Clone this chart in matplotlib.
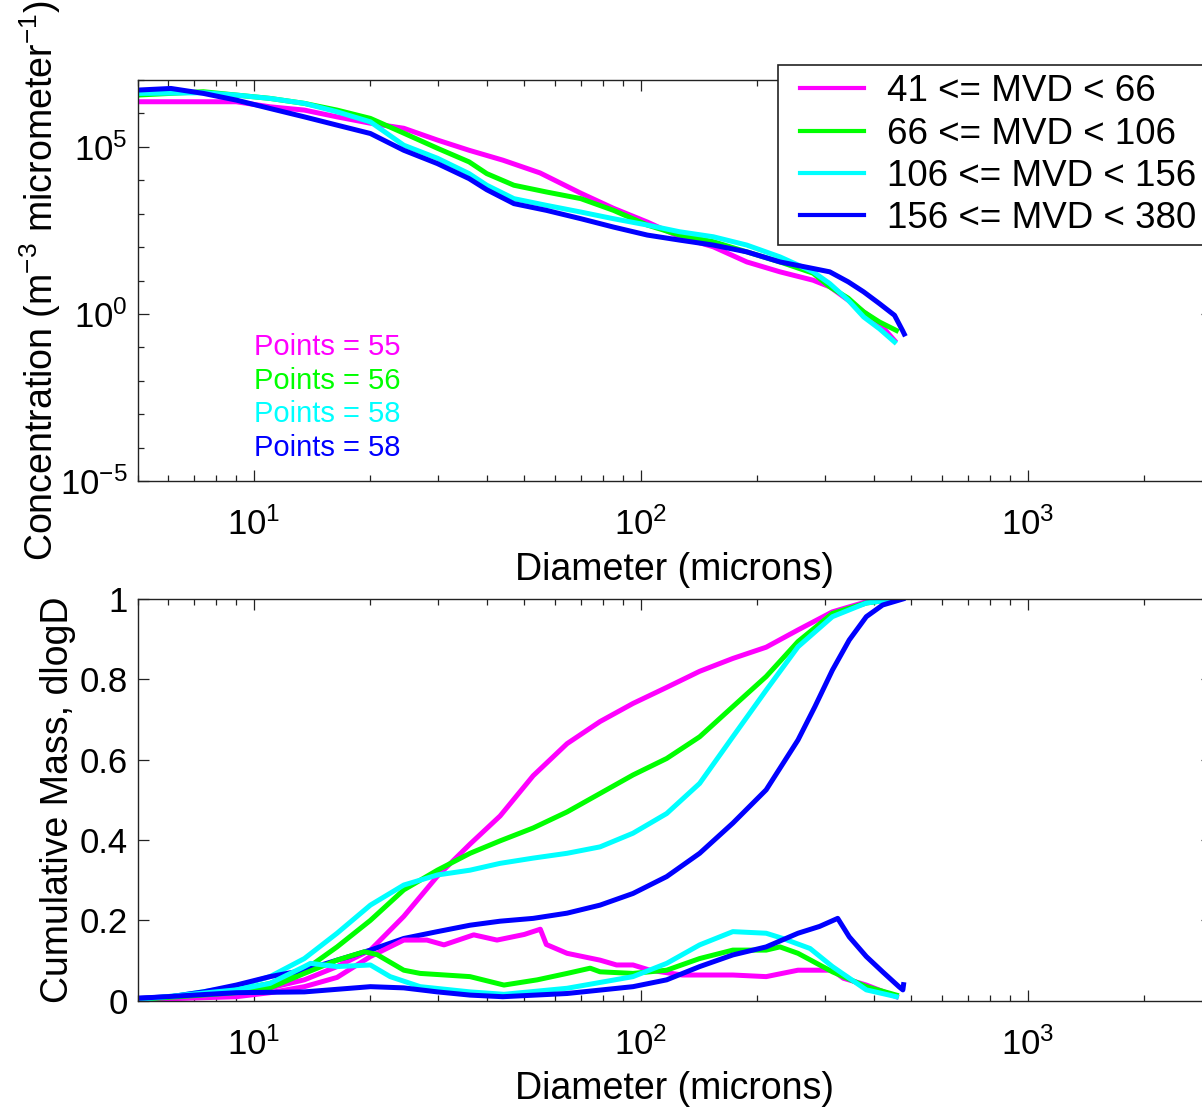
import matplotlib
matplotlib.use("Agg")
import matplotlib.pyplot as plt
from matplotlib.lines import Line2D
from matplotlib.legend_handler import HandlerLine2D
from matplotlib.ticker import FixedLocator, NullFormatter, LogLocator

# fonts: Arial-like text, math superscripts in the same font
plt.rcParams['font.family'] = ['Liberation Sans', 'DejaVu Sans']
plt.rcParams['mathtext.fontset'] = 'custom'
plt.rcParams['mathtext.rm'] = 'Liberation Sans'
plt.rcParams['mathtext.it'] = 'Liberation Sans'
plt.rcParams['mathtext.default'] = 'regular'

# ---- data ------------------------------------------------------------------
labels = ["41 <= MVD < 66", "66 <= MVD < 106", "106 <= MVD < 156", "156 <= MVD < 380"]
colors = ["#ff00ff", "#00ff00", "#00ffff", "#0000ff"]
points = [55, 56, 58, 58]

# top panel: concentration (m^-3 um^-1) vs diameter (um)
conc_d_mag = [5, 9, 11, 13.5, 16.4, 20, 24.4, 29.8, 36, 44, 54.9, 70, 85, 104, 126, 154, 188, 229,
              279, 308, 344, 377, 414, 453]
conc_mag = [2.24e6, 2.24e6, 1.58e6, 1.26e6, 7.9e5, 5.1e5, 3.6e5, 1.6e5, 7.9e4, 4.0e4, 1.66e4, 4.1e3,
            1.45e3, 562, 204, 102, 36, 18.2, 10.2, 6.5, 2.57, 1.15, 0.52, 0.16]

conc_d_grn = [5, 7.4, 9, 11, 13.5, 16.4, 20, 24.4, 29.8, 36, 40, 47, 57, 70, 85, 104, 126, 154, 188,
              229, 279, 308, 344, 377, 414, 458]
conc_grn = [3.55e6, 4.47e6, 3.55e6, 2.82e6, 2.0e6, 1.26e6, 7.1e5, 2.57e5, 9.1e4, 3.55e4, 1.58e4,
            7.1e3, 4.47e3, 2.82e3, 1.26e3, 457, 229, 145, 72, 36, 16.6, 6.5, 2.95, 1.15, 0.575, 0.32]

conc_d_cyn = [5, 7.4, 9, 11, 13.5, 16.4, 20, 24.4, 29.8, 36, 40, 47, 57, 70, 85, 104, 126, 154, 188,
              229, 279, 308, 344, 377, 414, 453]
conc_cyn = [3.98e6, 4.17e6, 3.55e6, 2.82e6, 2.0e6, 1.12e6, 5.6e5, 1.12e5, 4.57e4, 1.58e4, 7.1e3,
            2.82e3, 1.78e3, 1.12e3, 708, 457, 288, 204, 115, 51, 18.2, 8.1, 2.57, 0.81, 0.36, 0.145]

conc_d_blu = [5, 6.1, 7.4, 9, 11, 13.5, 16.4, 20, 24.4, 29.8, 36, 40, 47, 57, 70, 85, 104, 126, 154,
              188, 229, 279, 308, 344, 377, 414, 453, 475, 480]
conc_blu = [5.0e6, 5.6e6, 3.98e6, 2.51e6, 1.41e6, 7.9e5, 4.47e5, 2.51e5, 7.9e4, 3.16e4, 1.12e4,
            5.2e3, 2.0e3, 1.26e3, 708, 398, 229, 162, 115, 72, 36, 22.9, 18.2, 9.1, 4.57, 2.04, 0.91,
            0.32, 0.25]

# bottom panel: cumulative mass fraction
cum_d = [5, 6.1, 9, 11, 13.5, 16.4, 20, 24.4, 29.8, 36.2, 43.3, 52.7, 64.5, 78.5, 95.5, 116.7, 142,
         173, 211, 255, 313, 383, 458]
cum_mag = [0.003, 0.007, 0.02, 0.032, 0.052, 0.085, 0.126, 0.21, 0.31, 0.39, 0.46, 0.56, 0.64, 0.695,
           0.74, 0.78, 0.82, 0.852, 0.88, 0.923, 0.968, 0.993, 1.0]
cum_grn = [0.003, 0.01, 0.027, 0.043, 0.076, 0.134, 0.20, 0.276, 0.325, 0.367, 0.398, 0.43, 0.47,
           0.516, 0.562, 0.603, 0.657, 0.732, 0.807, 0.894, 0.964, 0.99, 1.0]
cum_cyn = [0.003, 0.01, 0.035, 0.06, 0.105, 0.168, 0.238, 0.288, 0.313, 0.325, 0.342, 0.355, 0.367,
           0.383, 0.417, 0.466, 0.541, 0.657, 0.773, 0.881, 0.956, 0.99, 1.0]
cum_d_blu = [5, 6.1, 7.4, 9, 11, 13.5, 16.4, 20, 24.4, 29.8, 36.2, 43.3, 52.7, 64.5, 78.5, 95.5, 116.7,
             142, 173, 211, 255, 282, 313, 346, 383, 422, 476]
cum_blu = [0.006, 0.01, 0.022, 0.039, 0.06, 0.076, 0.101, 0.126, 0.155, 0.172, 0.188, 0.198, 0.205,
           0.218, 0.238, 0.267, 0.309, 0.367, 0.442, 0.525, 0.649, 0.732, 0.823, 0.898, 0.956, 0.985,
           1.0]

# bottom panel: mass distribution (dM/dlogD, normalised)
dist_d_mag = [5, 6.1, 9, 11, 13.5, 16.4, 20, 24.4, 28, 31, 37, 42.5, 50, 55, 57, 64.5, 78.5, 86.6,
              95.5, 105.6, 128, 173, 211, 255, 313, 334, 383, 458]
dist_mag = [0.002, 0.005, 0.01, 0.02, 0.035, 0.058, 0.11, 0.151, 0.151, 0.139, 0.164, 0.151, 0.165,
            0.178, 0.14, 0.118, 0.101, 0.089, 0.089, 0.076, 0.064, 0.064, 0.06, 0.076, 0.076, 0.056,
            0.039, 0.01]
dist_d_grn = [5, 9, 11, 13.5, 16.4, 19.3, 20.8, 24.4, 26.9, 36.2, 44.3, 54, 64.5, 74, 78.5, 95.5,
              116.7, 142, 173, 211, 229, 255, 313, 383, 458]
dist_grn = [0.003, 0.02, 0.032, 0.068, 0.101, 0.122, 0.115, 0.076, 0.068, 0.06, 0.039, 0.052, 0.068,
            0.081, 0.072, 0.068, 0.076, 0.105, 0.126, 0.126, 0.134, 0.118, 0.072, 0.035, 0.014]
dist_d_cyn = [5, 9, 11, 13.5, 14, 16.4, 20, 22.5, 26.9, 36.2, 44.3, 64.5, 95.5, 116.7, 142, 173, 211,
              233, 274, 313, 383, 458]
dist_cyn = [0.003, 0.027, 0.043, 0.085, 0.093, 0.085, 0.089, 0.06, 0.035, 0.022, 0.016, 0.031, 0.06,
            0.093, 0.139, 0.172, 0.168, 0.155, 0.13, 0.085, 0.027, 0.01]
dist_d_blu = [5, 9, 13.5, 20, 24.4, 29.8, 36.2, 44, 64.5, 95.5, 116.7, 142, 173, 211, 255, 290, 323,
              346, 383, 422, 465, 476, 478]
dist_blu = [0.006, 0.02, 0.022, 0.035, 0.032, 0.022, 0.014, 0.01, 0.018, 0.035, 0.052, 0.085, 0.114,
            0.134, 0.168, 0.185, 0.205, 0.159, 0.11, 0.072, 0.035, 0.027, 0.04]

conc_series = [(conc_d_mag, conc_mag), (conc_d_grn, conc_grn), (conc_d_cyn, conc_cyn),
               (conc_d_blu, conc_blu)]
cum_series = [(cum_d, cum_mag), (cum_d, cum_grn), (cum_d, cum_cyn), (cum_d_blu, cum_blu)]
dist_series = [(dist_d_mag, dist_mag), (dist_d_grn, dist_grn), (dist_d_cyn, dist_cyn),
               (dist_d_blu, dist_blu)]

# ---- figure ------------------------------------------------------------------
fig = plt.figure(figsize=(12.02, 11.07), dpi=100)
ax1 = fig.add_axes([0.1144, 0.5655, 0.894, 0.3622])
ax2 = fig.add_axes([0.1144, 0.0960, 0.894, 0.3629])

lw = 3.6
for (d, v), col in zip(conc_series, colors):
    ax1.plot(d, v, color=col, lw=lw)
for (d, v), col in zip(cum_series, colors):
    ax2.plot(d, v, color=col, lw=lw)
for (d, v), col in zip(dist_series, colors):
    ax2.plot(d, v, color=col, lw=lw)

# "Points = N" annotations sit at whole decades of the top panel
for i, (n, col) in enumerate(zip(points, colors)):
    ax1.text(10, 10.0 ** (-1 - i), "Points = %d" % n, color=col, fontsize=21,
             ha='left', va='center')

# axes styling, MATLAB-like inward ticks on all sides
for ax in (ax1, ax2):
    ax.set_xscale('log')
    ax.set_xlim(5, 3000)
    ax.xaxis.set_major_locator(LogLocator(base=10))
    ax.xaxis.set_minor_locator(LogLocator(base=10, subs=range(2, 10)))
    ax.xaxis.set_minor_formatter(NullFormatter())
    ax.tick_params(which='both', direction='in', top=True, right=True, width=0.9,
                   color='#222222', labelsize=25)
    ax.tick_params(which='major', length=8)
    ax.tick_params(which='minor', length=4.3)
    ax.tick_params(axis='x', pad=19)
    ax.tick_params(axis='y', pad=7)
    for sp in ax.spines.values():
        sp.set_linewidth(1.0)
        sp.set_color('#222222')
    ax.set_xlabel("Diameter (microns)", fontsize=27, labelpad=7)

ax1.set_yscale('log')
ax1.set_ylim(1e-5, 1e7)
ax1.yaxis.set_major_locator(FixedLocator([1e-5, 1.0, 1e5]))
ax1.yaxis.set_minor_locator(FixedLocator([10.0 ** k for k in range(-4, 8) if k not in (0, 5)]))
ax1.yaxis.set_minor_formatter(NullFormatter())
ax1.set_ylabel("Concentration (m$^{-3}$ micrometer$^{-1}$)", fontsize=27)
ax1.yaxis.set_label_coords(-0.069, 0.5)

ax2.set_ylim(0, 1)
ax2.set_yticks([0, 0.2, 0.4, 0.6, 0.8, 1.0])
ax2.set_yticklabels(["0", "0.2", "0.4", "0.6", "0.8", "1"])
ax2.set_ylabel("Cumulative Mass, dlogD", fontsize=27)
ax2.yaxis.set_label_coords(-0.057, 0.5)

# legend box hangs over the top spine of the upper panel
handles = [Line2D([], [], color=c, lw=3) for c in colors]
leg = ax1.legend(handles, labels, loc='upper left', bbox_to_anchor=(778 / 1202, 1 - 65 / 1107),
                 bbox_transform=fig.transFigure, fontsize=26.5, frameon=True, fancybox=False,
                 framealpha=1, edgecolor='#222222', borderaxespad=0, borderpad=0.25,
                 handlelength=2.1, handletextpad=0.6, labelspacing=0.2,
                 handler_map={Line2D: HandlerLine2D(xpad=0.36)})
leg.get_frame().set_linewidth(1.2)

fig.savefig("out.png", dpi=100)
